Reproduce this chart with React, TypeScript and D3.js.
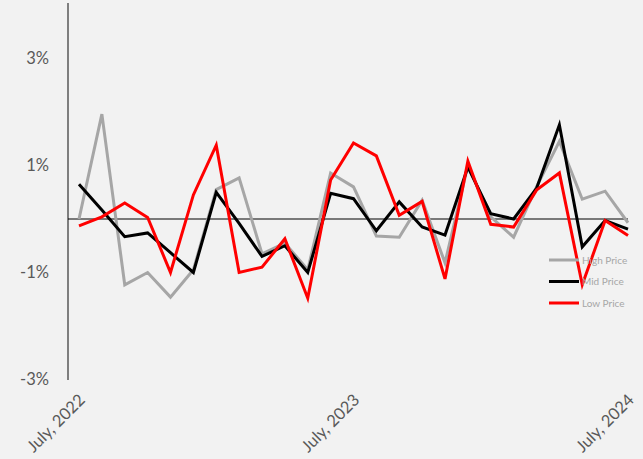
import React from "react";
import * as d3 from "d3";

const months = [
  "2022-07","2022-08","2022-09","2022-10","2022-11","2022-12",
  "2023-01","2023-02","2023-03","2023-04","2023-05","2023-06",
  "2023-07","2023-08","2023-09","2023-10","2023-11","2023-12",
  "2024-01","2024-02","2024-03","2024-04","2024-05","2024-06","2024-07",
];
const highPrice = [0.0, 1.96, -1.23, -1.0, -1.46, -0.95, 0.55, 0.77, -0.65, -0.45, -0.95, 0.86, 0.6, -0.32, -0.34, 0.35, -0.82, 1.0, 0.04, -0.34, 0.6, 1.45, 0.37, 0.52, -0.07];
const midPrice = [0.65, 0.17, -0.33, -0.26, -0.63, -1.0, 0.5, -0.08, -0.7, -0.5, -1.0, 0.48, 0.38, -0.22, 0.32, -0.15, -0.3, 0.97, 0.1, 0.0, 0.57, 1.76, -0.52, -0.03, -0.19];
const lowPrice = [-0.13, 0.04, 0.3, 0.03, -1.0, 0.45, 1.38, -1.0, -0.9, -0.37, -1.48, 0.73, 1.42, 1.18, 0.07, 0.33, -1.12, 1.08, -0.1, -0.15, 0.54, 0.86, -1.23, -0.03, -0.31];
const yTicks = [3, 1, -1, -3];
const xTickLabels = [
  { month: "2022-07", label: "July, 2022" },
  { month: "2023-07", label: "July, 2023" },
  { month: "2024-07", label: "July, 2024" },
];
const seriesNames = ["High Price", "Mid Price", "Low Price"];

export default function App() {
  const W = 643, H = 459;
  const x = d3.scalePoint<string>().domain(months).range([79, 628]);
  const y = d3.scaleLinear().domain([-3, 4]).range([379.5, 5]);
  const line = d3.line<number>().x((_, i) => x(months[i])!).y((d) => y(d));
  const series = [
    { name: seriesNames[0], values: highPrice, color: "#a6a6a6" },
    { name: seriesNames[1], values: midPrice, color: "#000000" },
    { name: seriesNames[2], values: lowPrice, color: "#ff0000" },
  ];
  const font = "Lato, 'Open Sans', sans-serif";
  return (
    <svg width={W} height={H} style={{ position: "absolute", left: 0, top: 0, background: "#f2f2f2" }}>
      <rect x={0} y={0} width={W} height={H} fill="#f2f2f2" />
      <line x1={68} x2={68} y1={3} y2={380} stroke="#7f7f7f" strokeWidth={2} />
      <line x1={68} x2={628} y1={y(0)} y2={y(0)} stroke="#000" strokeWidth={1} />
      {yTicks.map((t) => (
        <text key={t} x={49} y={y(t)} dy="0.35em" textAnchor="end" fontSize={16.5} fill="#595959" fontFamily={font}>
          {`${t}%`}
        </text>
      ))}
      {xTickLabels.map((t) => (
        <text
          key={t.label}
          transform={`translate(${x(t.month)! + 7},${401}) rotate(-45)`}
          textAnchor="end"
          fontSize={16.5}
          fill="#595959"
          fontFamily={font}
        >
          {t.label}
        </text>
      ))}
      {series.map((s) => (
        <path key={s.name} d={line(s.values)!} fill="none" stroke={s.color} strokeWidth={3} strokeLinejoin="miter" />
      ))}
      {series.map((s, i) => (
        <g key={s.name} transform={`translate(549,${260 + i * 21.5})`}>
          <line x1={0} x2={30} y1={0} y2={0} stroke={s.color} strokeWidth={3} />
          <text x={33} y={0} dy="0.35em" fontSize={10} fill="#a6a6a6" fontFamily={font}>
            {s.name}
          </text>
        </g>
      ))}
    </svg>
  );
}
